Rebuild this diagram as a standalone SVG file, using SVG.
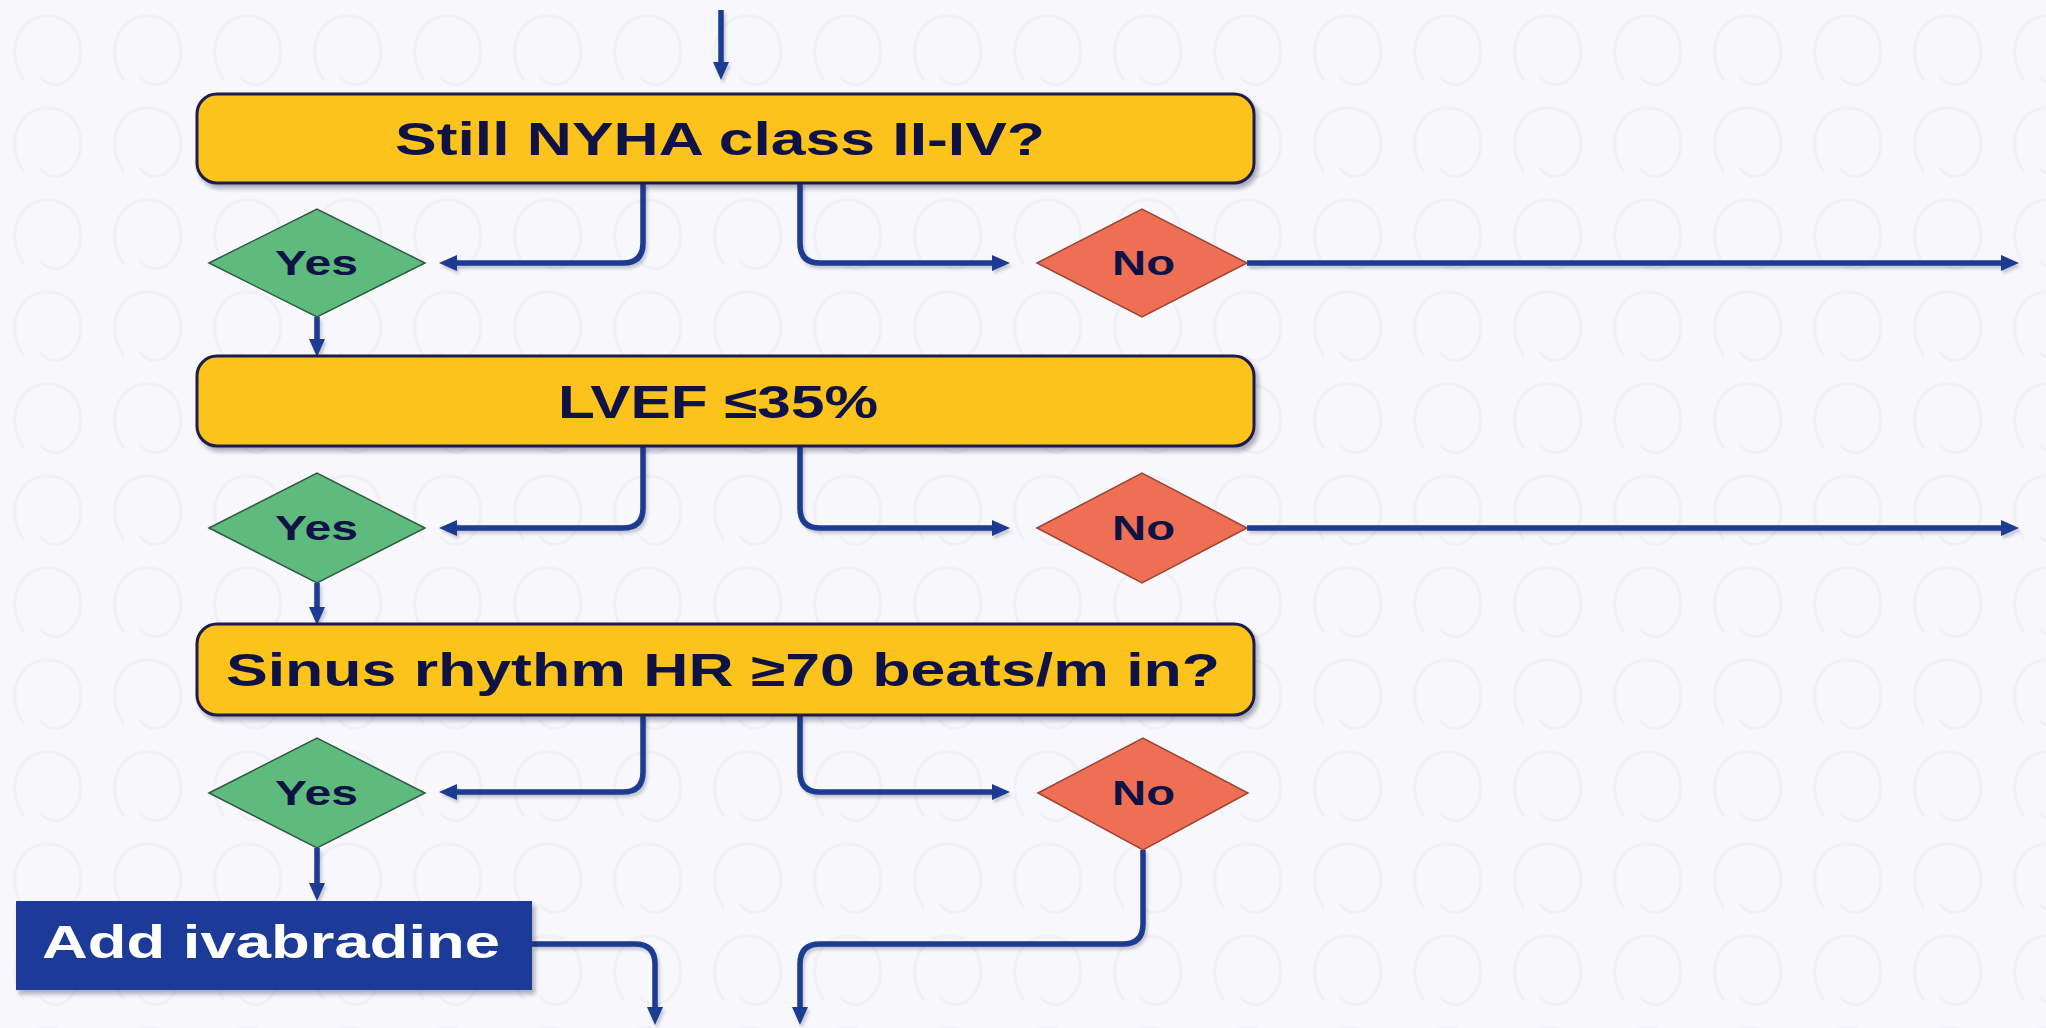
<svg xmlns="http://www.w3.org/2000/svg" width="2046" height="1028" viewBox="0 0 2046 1028">
  <style>
    .box { fill: #fbc31a; stroke: #1c1c4e; stroke-width: 3; }
    .yes { fill: #5fba7d; stroke: #2e5a44; stroke-width: 1.5; }
    .no { fill: #ef6f55; stroke: #9a4535; stroke-width: 1.5; }
    .act { fill: #1b3a98; }
    .t { font-family: "Liberation Sans", Arial, sans-serif; font-weight: bold; fill: #0e1245; }
    .tw { font-family: "Liberation Sans", Arial, sans-serif; font-weight: bold; fill: #ffffff; }
    .c { fill: none; stroke: #1f3a93; stroke-width: 5.5; stroke-linejoin: round; }
  </style>
  <defs>
    <marker id="ah" markerUnits="userSpaceOnUse" markerWidth="20" markerHeight="18" refX="4" refY="8" orient="auto">
      <path d="M0,0 L18,8 L0,16 z" fill="#1f3a93"/>
    </marker>
    <filter id="sh" x="-5%" y="-20%" width="110%" height="150%">
      <feDropShadow dx="3" dy="4" stdDeviation="2" flood-color="#202040" flood-opacity="0.35"/>
    </filter>
    <filter id="lsh" x="-5%" y="-20%" width="110%" height="150%">
      <feDropShadow dx="2" dy="3" stdDeviation="1.5" flood-color="#303050" flood-opacity="0.25"/>
    </filter>
    <pattern id="bg" width="100" height="92" patternUnits="userSpaceOnUse">
      <rect width="100" height="92" fill="#f8f8fc"/>
      <path d="M24,80 C4,52 18,14 50,16 C82,18 90,58 70,78 C60,88 46,86 40,76" fill="none" stroke="#f0f0f6" stroke-width="3"/>
    </pattern>
  </defs>

  <rect x="0" y="0" width="2046" height="1028" fill="url(#bg)"/>

  <g id="connectors" filter="url(#lsh)">
    <path class="c" d="M721,10 V66" marker-end="url(#ah)"/>
    <!-- row 1 -->
    <path class="c" d="M643,183 V243 Q643,263 623,263 H453" marker-end="url(#ah)"/>
    <path class="c" d="M800,183 V243 Q800,263 820,263 H996" marker-end="url(#ah)"/>
    <path class="c" d="M1247,263 H2005" marker-end="url(#ah)"/>
    <path class="c" d="M317,317 V343" marker-end="url(#ah)"/>
    <!-- row 2 -->
    <path class="c" d="M643,446 V508 Q643,528 623,528 H453" marker-end="url(#ah)"/>
    <path class="c" d="M800,446 V508 Q800,528 820,528 H996" marker-end="url(#ah)"/>
    <path class="c" d="M1247,528 H2005" marker-end="url(#ah)"/>
    <path class="c" d="M317,583 V611" marker-end="url(#ah)"/>
    <!-- row 3 -->
    <path class="c" d="M643,715 V772 Q643,792 623,792 H453" marker-end="url(#ah)"/>
    <path class="c" d="M800,715 V772 Q800,792 820,792 H996" marker-end="url(#ah)"/>
    <path class="c" d="M317,848 V887" marker-end="url(#ah)"/>
    <!-- bottom -->
    <path class="c" d="M532,944 H635 Q655,944 655,964 V1011" marker-end="url(#ah)"/>
    <path class="c" d="M1143,850 V924 Q1143,944 1123,944 H820 Q800,944 800,964 V1011" marker-end="url(#ah)"/>
  </g>

  <g id="q1">
    <rect class="box" x="197" y="94" width="1057" height="89" rx="20" filter="url(#sh)"/>
    <text class="t" x="395" y="155" font-size="46" textLength="650" lengthAdjust="spacingAndGlyphs">Still NYHA class II-IV?</text>
  </g>
  <g id="yes1">
    <polygon class="yes" points="209,263 317,209 425,263 317,317"/>
    <text class="t" x="275" y="275" font-size="35" textLength="83" lengthAdjust="spacingAndGlyphs">Yes</text>
  </g>
  <g id="no1">
    <polygon class="no" points="1037,263 1142,209 1247,263 1142,317"/>
    <text class="t" x="1112" y="275" font-size="35" textLength="63" lengthAdjust="spacingAndGlyphs">No</text>
  </g>

  <g id="q2">
    <rect class="box" x="197" y="356" width="1057" height="90" rx="20" filter="url(#sh)"/>
    <text class="t" x="558" y="418" font-size="46" textLength="320" lengthAdjust="spacingAndGlyphs">LVEF ≤35%</text>
  </g>
  <g id="yes2">
    <polygon class="yes" points="209,528 317,473 425,528 317,583"/>
    <text class="t" x="275" y="540" font-size="35" textLength="83" lengthAdjust="spacingAndGlyphs">Yes</text>
  </g>
  <g id="no2">
    <polygon class="no" points="1037,528 1142,473 1247,528 1142,583"/>
    <text class="t" x="1112" y="540" font-size="35" textLength="63" lengthAdjust="spacingAndGlyphs">No</text>
  </g>

  <g id="q3">
    <rect class="box" x="197" y="624" width="1057" height="91" rx="20" filter="url(#sh)"/>
    <text class="t" x="226" y="686" font-size="46" textLength="994" lengthAdjust="spacingAndGlyphs">Sinus rhythm  HR ≥70 beats/m in?</text>
  </g>
  <g id="yes3">
    <polygon class="yes" points="209,793 317,738 425,793 317,848"/>
    <text class="t" x="275" y="805" font-size="35" textLength="83" lengthAdjust="spacingAndGlyphs">Yes</text>
  </g>
  <g id="no3">
    <polygon class="no" points="1038,793 1143,738 1248,793 1143,850"/>
    <text class="t" x="1112" y="805" font-size="35" textLength="63" lengthAdjust="spacingAndGlyphs">No</text>
  </g>

  <g id="ivabradine">
    <rect class="act" x="16" y="901" width="516" height="89" filter="url(#sh)"/>
    <text class="tw" x="42" y="958" font-size="47" textLength="458" lengthAdjust="spacingAndGlyphs">Add ivabradine</text>
  </g>
</svg>
